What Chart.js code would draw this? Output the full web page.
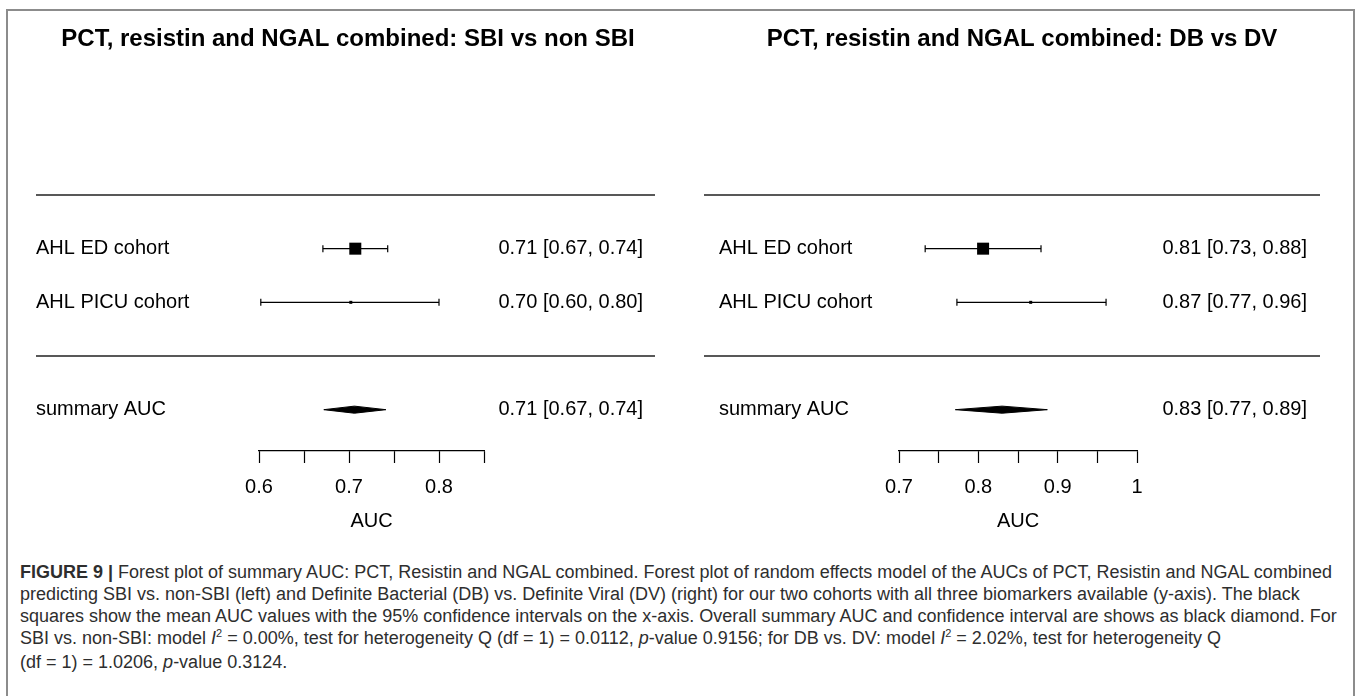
<!DOCTYPE html>
<html>
<head>
<meta charset="utf-8">
<script src="https://cdn.jsdelivr.net/npm/chart.js@4"></script>
<style>
  body { margin: 0; background: #fff; width: 1358px; height: 696px; overflow: hidden; position: relative; }
  #frame { position: absolute; left: 6px; top: 9px; width: 1349px; height: 800px; box-sizing: border-box;
           border: 2px solid #8c8c8c; border-bottom: none; }
  canvas { position: absolute; top: 0; }
  #left { left: 0; }
  #right { left: 680px; }
  #caption { position: absolute; left: 20px; top: 561px; font-family: "Liberation Sans", Arial, sans-serif;
             font-size: 18px; line-height: 22px; color: #2e2e2e; white-space: nowrap; }
  #caption sup { font-size: 11px; vertical-align: 0; position: relative; top: -7px; }
</style>
</head>
<body>
<div id="frame"></div>
<canvas id="left" width="680" height="560"></canvas>
<canvas id="right" width="678" height="560"></canvas>
<div id="caption">
  <div><b>FIGURE 9 |</b> Forest plot of summary AUC: PCT, Resistin and NGAL combined. Forest plot of random effects model of the AUCs of PCT, Resistin and NGAL combined</div>
  <div>predicting SBI vs. non-SBI (left) and Definite Bacterial (DB) vs. Definite Viral (DV) (right) for our two cohorts with all three biomarkers available (y-axis). The black</div>
  <div>squares show the mean AUC values with the 95% confidence intervals on the x-axis. Overall summary AUC and confidence interval are shows as black diamond. For</div>
  <div>SBI vs. non-SBI: model <i>I</i><sup>2</sup> = 0.00%, test for heterogeneity Q (df = 1) = 0.0112, <i>p</i>-value 0.9156; for DB vs. DV: model <i>I</i><sup>2</sup> = 2.02%, test for heterogeneity Q</div>
  <div>(df = 1) = 1.0206, <i>p</i>-value 0.3124.</div>
</div>
<script>
// studies (rows)
const studies = ["AHL ED cohort", "AHL PICU cohort"];
const summaryLabel = "summary AUC";

// SBI vs non SBI
const sbiAuc = [0.707, 0.702];
const sbiLower = [0.671, 0.602];
const sbiUpper = [0.743, 0.800];
const sbiSummary = [0.706, 0.672, 0.741]; // estimate, lower, upper
const sbiTicks = [0.6, 0.65, 0.7, 0.75, 0.8, 0.85];
const sbiTickLabels = ["0.6", "", "0.7", "", "0.8", ""];

// DB vs DV
const dbAuc = [0.806, 0.866];
const dbLower = [0.733, 0.773];
const dbUpper = [0.879, 0.961];
const dbSummary = [0.830, 0.771, 0.887];
const dbTicks = [0.7, 0.75, 0.8, 0.85, 0.9, 0.95, 1];
const dbTickLabels = ["0.7", "", "0.8", "", "0.9", "", "1"];

const FONT = '"Liberation Sans", Arial, sans-serif';
const fmt = (e, l, u) => e.toFixed(2) + " [" + l.toFixed(2) + ", " + u.toFixed(2) + "]";

// text, title and separator lines of the forest plot
const forestText = {
  id: "forestText",
  afterDraw(chart, args, o) {
    const ctx = chart.ctx, y = chart.scales.y;
    ctx.save();
    ctx.fillStyle = "#000";
    ctx.font = "bold 24px " + FONT;
    ctx.textAlign = "center";
    ctx.textBaseline = "middle";
    ctx.fillText(o.title, o.titleX, 39);

    ctx.strokeStyle = "#222";
    ctx.lineWidth = 1.5;
    ctx.beginPath();
    [0, studies.length + 1].forEach(r => {
      const py = y.getPixelForValue(r);
      ctx.moveTo(o.lineFrom, py);
      ctx.lineTo(o.lineTo, py);
    });
    ctx.stroke();

    ctx.font = "20px " + FONT;
    ctx.textAlign = "left";
    studies.forEach((s, i) => ctx.fillText(s, o.labelX, y.getPixelForValue(i + 1)));
    const sRow = studies.length + 2;
    ctx.fillText(summaryLabel, o.labelX, y.getPixelForValue(sRow));

    ctx.textAlign = "right";
    o.auc.forEach((a, i) => ctx.fillText(fmt(a, o.lower[i], o.upper[i]), o.textRight, y.getPixelForValue(i + 1)));
    ctx.fillText(fmt(o.summary[0], o.summary[1], o.summary[2]), o.textRight, y.getPixelForValue(sRow));
    ctx.restore();
  }
};

function forest(id, p) {
  const sRow = studies.length + 2;
  const half = 0.066; // diamond half height (rows)
  // square size from precision of each study
  const prec = p.auc.map((a, i) => 3.92 / (p.upper[i] - p.lower[i]));
  const pMin = Math.min(...prec), pMax = Math.max(...prec);
  const sides = prec.map(v => 3 + 9 * (v - pMin) / ((pMax - pMin) || 1));

  const datasets = [];
  studies.forEach((s, i) => {
    datasets.push({
      data: [{ x: p.lower[i], y: i + 1 }, { x: p.upper[i], y: i + 1 }],
      showLine: true, borderColor: "#000", borderWidth: 1.2,
      pointStyle: "line", rotation: 90, pointRadius: 3.5,
      pointBorderColor: "#000", pointBorderWidth: 1.2, clip: false
    });
  });
  datasets.push({
    data: p.auc.map((a, i) => ({ x: a, y: i + 1 })),
    pointStyle: "rect", pointRadius: sides.map(s => s / Math.SQRT2),
    backgroundColor: "#000", borderWidth: 0, clip: false
  });
  const [se, sl, su] = p.summary;
  datasets.push({
    data: [{ x: sl, y: sRow }, { x: se, y: sRow - half }, { x: su, y: sRow }, { x: se, y: sRow + half }, { x: sl, y: sRow }],
    showLine: true, fill: "shape", backgroundColor: "#000", borderColor: "#000",
    borderWidth: 1, pointRadius: 0, clip: false
  });

  return new Chart(document.getElementById(id), {
    type: "scatter",
    data: { datasets },
    plugins: [forestText],
    options: {
      responsive: false,
      animation: false,
      events: [],
      layout: { padding: { left: p.padLeft, right: p.padRight, top: 195, bottom: 19 } },
      plugins: {
        legend: { display: false },
        tooltip: { enabled: false },
        forestText: p.text
      },
      scales: {
        x: {
          type: "linear",
          min: p.ticks[0],
          max: p.ticks[p.ticks.length - 1],
          afterBuildTicks: s => { s.ticks = p.ticks.map(v => ({ value: v })); },
          afterFit: s => { s.height = 90; },
          grid: { drawOnChartArea: false, drawTicks: true, tickLength: 12, tickColor: "#000", tickWidth: 1.2 },
          border: { display: true, color: "#000", width: 1.2 },
          ticks: {
            autoSkip: false, maxRotation: 0, padding: 12, color: "#000",
            font: { family: FONT, size: 20 },
            callback: (v, i) => p.tickLabels[i]
          },
          title: { display: true, text: "AUC", color: "#000", font: { family: FONT, size: 20 }, padding: { top: 0, bottom: 8 } }
        },
        y: { type: "linear", display: false, reverse: true, min: 0, max: 4.77 }
      }
    }
  });
}

forest("left", {
  auc: sbiAuc, lower: sbiLower, upper: sbiUpper, summary: sbiSummary,
  ticks: sbiTicks, tickLabels: sbiTickLabels, padLeft: 259, padRight: 196,
  text: {
    title: "PCT, resistin and NGAL combined: SBI vs non SBI", titleX: 348,
    auc: sbiAuc, lower: sbiLower, upper: sbiUpper, summary: sbiSummary,
    lineFrom: 36, lineTo: 655, labelX: 36, textRight: 643
  }
});

forest("right", {
  auc: dbAuc, lower: dbLower, upper: dbUpper, summary: dbSummary,
  ticks: dbTicks, tickLabels: dbTickLabels, padLeft: 219, padRight: 221,
  text: {
    title: "PCT, resistin and NGAL combined: DB vs DV", titleX: 342,
    auc: dbAuc, lower: dbLower, upper: dbUpper, summary: dbSummary,
    lineFrom: 24, lineTo: 640, labelX: 39, textRight: 627
  }
});
</script>
</body>
</html>
